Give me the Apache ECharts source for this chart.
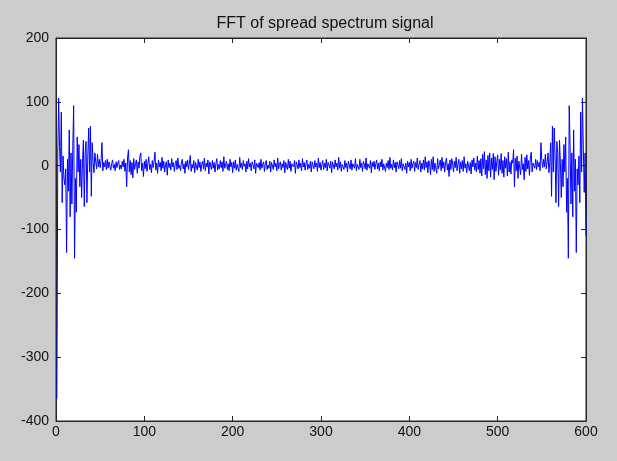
<!DOCTYPE html>
<html>
<head>
<meta charset="utf-8">
<script src="https://cdn.jsdelivr.net/npm/echarts@6/dist/echarts.min.js"></script>
<style>
  html, body { margin: 0; padding: 0; background: #cccccc; }
  #chart { width: 617px; height: 461px; }
</style>
</head>
<body>
<div id="chart"></div>
<script>
// Real part of the FFT, one value per bin (bins 1..600)
const lowBins = [
  -365, 20, 106, 30, -10, 84, -58, 15, -20, -30, -5, -136, 10, -40, 56, -80, 20, -60, 30, 94,
  -145, -20, -73, 45, -10, 33, -33, 10, -50, 5, 40, -64, 20, 38, -58, 15, 59, -10, 62, -48,
  36, 5, -11, 20, 6, -5, 18, -2, 10, -3, 8, 36, -8, 5, -2, 8, -6, 10, -4, 6
];
const midBins = [
  5, -7, 3, 9, -4, 2, -8, 6, -3, 4, 8, -6, 1, -5, 7, -2, 10, -9, 4, -33,
  12, 25, -10, 8, -14, 5, -19, 11, -6, 3, 9, -12, 6, -4, 15, 20, -8, 4, -17, 7,
  -5, 10, -9, 3, 14, -6, 2, -11, 8, -3, 6, 21, -7, 4, -12, 9, -2, 5, -8, 13,
  -4, 7, -10, 2, 6, -15, 9, -3, 4, -7, 11, -2, 5, -9, 3, 8, -6, 12, -4, 1,
  -8, 6, 10, -5, 3, -12, 7, -2, 9, -6, 4, 16, -9, 2, -4, 8, -11, 5, 3, -7,
  10, -3, 6, -9, 2, 7, -5, 12, -8, 4, -2, 9, -13, 6, 1, -6, 8, -4, 5, -10,
  3, 11, -7, 2, -5, 8, -3, 6, -9, 14, -4, 1, 7, -6, 3, -8, 10, -2, 5, -11,
  6, -4, 9, -7, 2, 5, -9, 13, -3, 4, -6, 8, -1, 3, -10, 7, -5, 11, -2, 4,
  -8, 6, 2, -5, 9, -12, 4, 7, -3, 5, -7, 10, -4, 2, 6, -9, 3, 8, -6, 1,
  -4, 7, -10, 5, 3, -6, 9, -2, 4, -8, 12, -5, 2, 6, -7, 3, -3, 8, -11, 5,
  2, -6, 10, -4, 7, -9, 3, 5, -2, 8, -12, 6, 1, -5, 9, -3, 4, -8, 11, -2,
  5, -7, 3, 9, -6, 2, -4, 7, -10, 6, 3, -5, 8, -2, 4, -9, 12, -3, 5, -7,
  2, 8, -6, 4, -3, 10, -8, 5, 1, -4, 7, -11, 6, 3, -5, 9, -2, 4, -7, 13,
  -4, 6, -9, 2, 5, -6, 8, -3, 4, -10, 7, 1, -5, 9, -7, 3, 6, -4, 11, -8,
  2, 5, -6, 10, -3, 4, -9, 7, 2, -5, 12, -7, 3, 6, -4, 8, -11, 5, -2, 7,
  -6, 3, 9, -5, 4, -8, 6, -2, 10, -7, 3, 5, -9, 4, -3, 8, -6, 13, -4, 2,
  -7, 9, -3, 5, -10, 6, 2, -5, 8, -4, 11, -8, 3, 6, -6, 4, -12, 7, -2, 5,
  -8, 10, -4, 3, 7, -9, 5, -3, 12, -6, 2, 8, -10, 4, -5, 9, -7, 14, -3, 6,
  -11, 8, 3, -14, 10, -6, 14, -9, 4, 7, -12, 11, -5, 2, 9, -8, 13, -4, 6, -10,
  5, 12, -7, 3, -17, 9, -6, 11, 4, -10, 7, -3, 13, -8, 2, 10, -12, 6, -5, 8,
  -9, 14, -4, 3, -11, 7, 10, -8, 5, -13, 9, -2, 12, -7, 4, -10, 15, -6, 8, -12,
  11, -16, 18, -5, 22, -14, 9, -20, 16, -8, 20, -18, 12, -6, 19, -22, 14, -9, 6, 17,
  -15, 10, -7, 19, -12, 8, -18, 14, -4, 11, -16, 21, -10, 6, -13, 9, 4, 25, -33, 12,
  -8, 15, -20, 7, 10, -14, 18, -6, 3, -22, 13, -9, 17, -5, 8, -15, 12, 21, -10, 4
];
const highBins = [
  6, -4, 10, -6, 8, -2, 5, -8, 36, 8, -3, 10, -2, 18, -5, 6, 20, -11, 5, 36,
  -48, 62, -10, 59, 15, -58, 38, 20, -64, 40, 5, -50, 10, -33, 33, -10, 45, -73, -20, -145,
  94, 30, -60, 20, -80, 56, -40, 10, -136, -5, -30, 15, -58, 84, -10, 106, 25, -42, 20, -110
];
const xTicks = [0, 100, 200, 300, 400, 500, 600];
const yTicks = [-400, -300, -200, -100, 0, 100, 200];
const titleText = 'FFT of spread spectrum signal';

const spectrum = lowBins.concat(midBins, highBins);
const points = spectrum.map((v, i) => [i + 1, v]);

const axisColor = '#262626';
const fontFamily = 'Liberation Sans, Arial, sans-serif';
const labelFont = { color: '#111111', fontSize: 14, fontFamily: fontFamily };

// Box-style axes: every side carries inward ticks, only bottom/left are labelled
function boxAxis(extra, ticks) {
  return Object.assign({
    type: 'value',
    min: ticks[0],
    max: ticks[ticks.length - 1],
    interval: ticks[1] - ticks[0],
    axisLine: { show: true, onZero: false, lineStyle: { color: axisColor } },
    axisTick: { show: true, inside: true, length: 5, lineStyle: { color: axisColor } },
    splitLine: { show: false }
  }, extra);
}

const chart = echarts.init(document.getElementById('chart'), null, { renderer: 'canvas' });
chart.setOption({
  animation: false,
  backgroundColor: '#cccccc',
  title: {
    text: titleText,
    left: 320,
    textAlign: 'center',
    top: 11,
    textStyle: { color: '#111111', fontSize: 16, fontWeight: 'normal', fontFamily: fontFamily }
  },
  grid: {
    left: 56, right: 31, top: 38, bottom: 40,
    show: true, backgroundColor: '#ffffff', borderColor: axisColor, borderWidth: 1
  },
  xAxis: [
    boxAxis({ position: 'bottom', axisLabel: Object.assign({ margin: 4 }, labelFont) }, xTicks),
    boxAxis({ position: 'top', axisLabel: { show: false } }, xTicks)
  ],
  yAxis: [
    boxAxis({ position: 'left', axisLabel: Object.assign({ margin: 7 }, labelFont) }, yTicks),
    boxAxis({ position: 'right', axisLabel: { show: false } }, yTicks)
  ],
  series: [{
    type: 'line',
    data: points,
    showSymbol: false,
    sampling: null,
    lineStyle: { color: '#0000ff', width: 1 },
    z: 3
  }]
});
</script>
</body>
</html>
